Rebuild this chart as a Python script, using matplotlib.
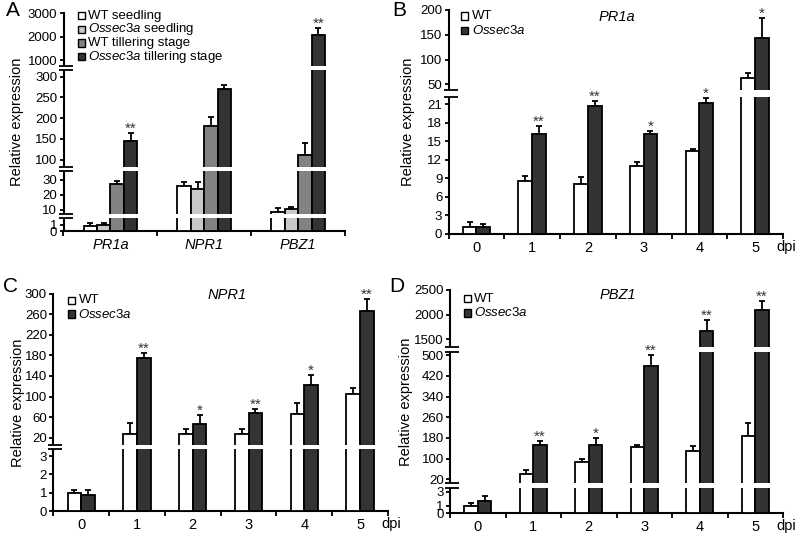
import numpy as np
import matplotlib
matplotlib.use('Agg')
import matplotlib.pyplot as plt
from matplotlib.patches import Rectangle
from matplotlib.ticker import FixedLocator, NullLocator

plt.rcParams['font.family'] = ['Liberation Sans', 'DejaVu Sans']
plt.rcParams['mathtext.fontset'] = 'custom'
plt.rcParams['mathtext.rm'] = 'Liberation Sans'
plt.rcParams['mathtext.it'] = 'Liberation Sans:italic'

W, H = 800, 534

# --- panel A: seedling vs tillering stage ---
genes_a = ['PR1a', 'NPR1', 'PBZ1']
a_labels = ['WT seedling', r'$\mathit{Ossec3a}$ seedling',
            'WT tillering stage', r'$\mathit{Ossec3a}$ tillering stage']
a_vals = [[0.8, 26, 8.1], [0.9, 24, 10.3], [27, 181, 110], [144, 270, 2050]]
a_errs = [[0.4, 2.5, 3.1], [0.4, 4.5, 1.6], [2, 21, 29], [19, 10, 330]]
a_sig = ['**', '', '**']

# --- panels B-D: time course after inoculation ---
days = [0, 1, 2, 3, 4, 5]
bd_labels = ['WT', r'$\mathit{Ossec3a}$']

pr1a_wt = [1.2, 8.6, 8.1, 11.0, 13.5, 63]
pr1a_wt_err = [0.7, 0.8, 1.2, 0.6, 0.3, 10]
pr1a_mut = [1.2, 16.2, 20.7, 16.2, 21.2, 143]
pr1a_mut_err = [0.5, 1.3, 0.8, 0.5, 0.8, 40]
pr1a_sig = ['', '**', '**', '*', '*', '*']

npr1_wt = [1.0, 28, 28, 28, 66, 105]
npr1_wt_err = [0.18, 20, 9.5, 9, 22, 11]
npr1_mut = [0.88, 175, 47, 68, 123, 267]
npr1_mut_err = [0.27, 10, 18, 7, 18, 23]
npr1_sig = ['', '**', '*', '**', '*', '**']

pbz1_wt = [1.0, 42, 87, 146, 128, 189]
pbz1_wt_err = [0.4, 13, 12, 6, 20, 48]
pbz1_mut = [1.7, 152, 152, 458, 1663, 2098]
pbz1_mut_err = [0.7, 15, 29, 42, 217, 172]
pbz1_sig = ['', '**', '*', '**', '**', '**']

fig = plt.figure(figsize=(W / 100, H / 100), dpi=100)


def make_axes(left, right, top, bottom):
    ax = fig.add_axes([left / W, 1 - bottom / H, (right - left) / W, (bottom - top) / H])
    ax.px = (left, right, top, bottom)
    return ax


def broken_y(ax, segs, ticks):
    # segs: (value_lo, value_hi, y_px_lo, y_px_hi) from bottom to top
    bottom = ax.px[3]
    vals, hts = [], []
    for vlo, vhi, ylo, yhi in segs:
        vals += [vlo, vhi]
        hts += [bottom - ylo, bottom - yhi]
    vals, hts = np.array(vals, float), np.array(hts, float)
    ax.set_yscale('function', functions=(lambda v: np.interp(v, vals, hts),
                                         lambda h: np.interp(h, hts, vals)))
    ax.set_ylim(0, segs[-1][1])
    ax.yaxis.set_major_locator(FixedLocator(ticks))
    ax.yaxis.set_minor_locator(NullLocator())
    ax.set_yticklabels([str(t) for t in ticks])
    w = ax.px[1] - ax.px[0]
    tr = ax.get_yaxis_transform()
    for i in range(len(segs) - 1):
        v1, v2 = segs[i][1], segs[i + 1][0]
        ax.add_patch(Rectangle((-4 / w, v1), 1 + 4 / w, v2 - v1, transform=tr,
                               facecolor='white', edgecolor='none', zorder=5, clip_on=False))
        for v in (v1, v2):
            ax.plot([-5 / w, 9 / w], [v, v], transform=tr, color='black', lw=1.3,
                    clip_on=False, zorder=6, solid_capstyle='butt')


def style(ax, ngroups, labels, italic=False):
    for s in ('top', 'right'):
        ax.spines[s].set_visible(False)
    for s in ('left', 'bottom'):
        ax.spines[s].set_linewidth(1.5)
    ax.set_xlim(-0.5, ngroups - 0.5)
    ax.set_xticks(range(ngroups))
    ax.set_xticklabels(labels, fontsize=10.5, style='italic' if italic else 'normal')
    ax.set_xticks(np.arange(ngroups + 1) - 0.5, minor=True)
    ax.tick_params(axis='x', which='major', length=0, pad=5)
    ax.tick_params(axis='x', which='minor', length=3.5, width=1.3, direction='out')
    ax.tick_params(axis='y', length=3, width=1.3, labelsize=9.5, pad=1.5)
    ax.set_ylabel('Relative expression', fontsize=10.5)


def bars(ax, x, vals, errs, color, width):
    ax.bar(x, vals, width, color=color, edgecolor='black', linewidth=1.3, zorder=3)
    ax.errorbar(x, vals, yerr=[np.zeros(len(vals)), errs], fmt='none', ecolor='black',
                elinewidth=1.3, capsize=2.5, capthick=1.3, zorder=2)


def stars(ax, x, vals, errs, sig):
    for xi, v, e, s in zip(x, vals, errs, sig):
        if s:
            ax.annotate(s, (xi, v + e), xytext=(0, -2), textcoords='offset points',
                        ha='center', va='bottom', fontsize=11, color='#333333', zorder=7)


def legend(colors, labels, x_px, y_rows, text_x):
    # little squares + labels, placed like the original figure
    for c, lab, y in zip(colors, labels, y_rows):
        fig.add_artist(Rectangle((x_px / W, 1 - (y + 3.6) / H), 7.2 / W, 7.2 / H,
                                 transform=fig.transFigure, facecolor=c,
                                 edgecolor='black', linewidth=1))
        fig.text(text_x / W, 1 - y / H, lab, fontsize=9.5, ha='left', va='center')


# ---------- A ----------
axA = make_axes(63.5, 345, 13, 231)
broken_y(axA, [(0, 2.1, 231, 217.5), (7, 36, 214, 170.5), (82, 316, 167, 70), (745, 3000, 66, 13)],
         [0, 1, 10, 20, 30, 100, 150, 200, 250, 300, 1000, 2000, 3000])
style(axA, 3, genes_a, italic=True)
a_colors = ['white', '#c8c8c8', '#828282', '#333333']
wa = 0.143
xa = np.arange(3)
for k in range(4):
    bars(axA, xa + (k - 1.5) * wa, a_vals[k], a_errs[k], a_colors[k], wa)
stars(axA, xa + 1.5 * wa, a_vals[3], a_errs[3], a_sig)
legend(a_colors, a_labels, 77.5, [15.7, 29.3, 42.9, 56.7], 88.5)
axA.yaxis.set_label_coords((24 - 63.5) / (345 - 63.5), 0.5)

# ---------- B-D ----------
wb = 0.245
xb = np.arange(6)
bd_colors = ['white', '#333333']

panels = [
    ((448.5, 783, 10, 234), [(0, 22.2, 234, 97), (38.5, 200, 90, 10)],
     [0, 3, 6, 9, 12, 15, 18, 21, 50, 100, 150, 200],
     pr1a_wt, pr1a_wt_err, pr1a_mut, pr1a_mut_err, pr1a_sig, 'PR1a', (617, 17),
     (460.5, [16, 30.5], 471.5), 415),
    ((53.3, 388, 293.7, 511.3), [(0, 3.38, 511.3, 449), (5.8, 300, 445, 293.7)],
     [0, 1, 2, 3, 20, 60, 100, 140, 180, 220, 260, 300],
     npr1_wt, npr1_wt_err, npr1_mut, npr1_mut_err, npr1_sig, 'NPR1', (227, 295),
     (68, [300.3, 314], 78.5), 25),
    ((450, 783, 290, 513), [(0, 3.57, 513, 488), (5, 512.8, 483.2, 352), (1337, 2500, 347, 290)],
     [0, 1, 3, 20, 100, 180, 260, 340, 420, 500, 1500, 2000, 2500],
     pbz1_wt, pbz1_wt_err, pbz1_mut, pbz1_mut_err, pbz1_sig, 'PBZ1', (618, 295),
     (463.5, [298.7, 313], 474), 413),
]

for rect, segs, ticks, wt, wt_e, mut, mut_e, sig, title, tpos, leg, ylx in panels:
    ax = make_axes(*rect)
    broken_y(ax, segs, ticks)
    style(ax, 6, [str(d) for d in days])
    bars(ax, xb - wb / 2, wt, wt_e, bd_colors[0], wb)
    bars(ax, xb + wb / 2, mut, mut_e, bd_colors[1], wb)
    stars(ax, xb + wb / 2, mut, mut_e, sig)
    legend(bd_colors, bd_labels, *leg)
    fig.text(tpos[0] / W, 1 - tpos[1] / H, title, style='italic', fontsize=10.5,
             ha='center', va='center')
    ax.yaxis.set_label_coords((ylx - rect[0]) / (rect[1] - rect[0]), 0.5)
    # 'dpi' unit next to the last tick label
    ax.text(5.38, -13 / (rect[3] - rect[2]), 'dpi', fontsize=10.5, ha='left', va='center',
            transform=ax.get_xaxis_transform())

# panel letters
for letter, (px, py) in zip('ABCD', [(13, 10), (399, 11), (11, 287), (397, 287)]):
    fig.text(px / W, 1 - py / H, letter, fontsize=15, ha='center', va='center')

fig.savefig('out.png', dpi=100)
